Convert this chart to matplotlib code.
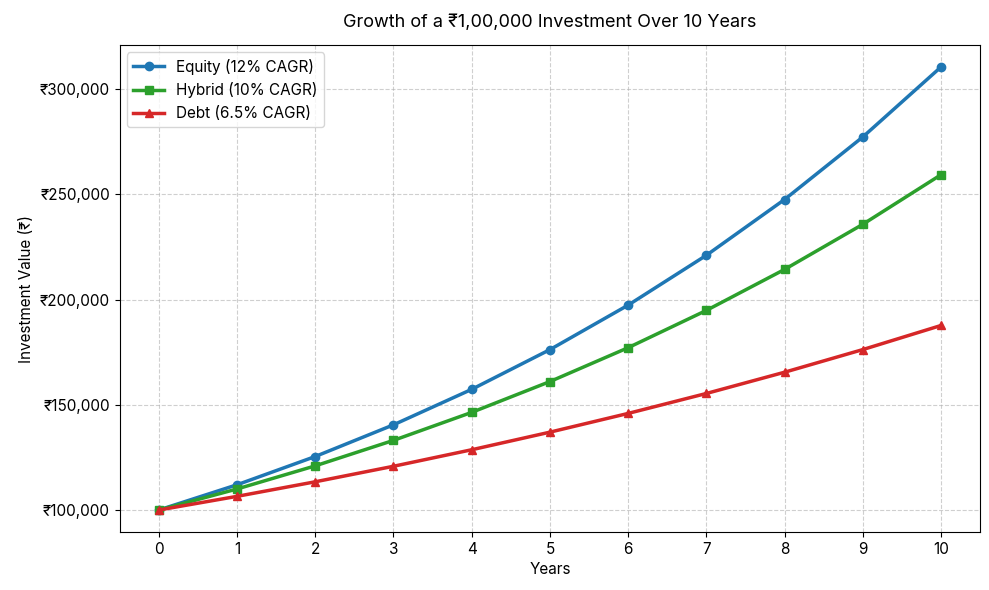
import matplotlib
matplotlib.use("Agg")
import matplotlib.pyplot as plt
from matplotlib.ticker import FuncFormatter

plt.rcParams['font.family'] = ['Inter', 'Noto Sans', 'DejaVu Sans']

years = [0, 1, 2, 3, 4, 5, 6, 7, 8, 9, 10]
equity = [100000, 112000, 125440, 140493, 157352, 176234, 197382, 221068, 247596, 277308, 310585]
hybrid = [100000, 110000, 121000, 133100, 146410, 161051, 177156, 194872, 214359, 235795, 259374]
debt = [100000, 106500, 113423, 120795, 128647, 137009, 145914, 155399, 165500, 176257, 187714]

fig, ax = plt.subplots(figsize=(9.89, 5.9), dpi=100)
ax.plot(years, equity, marker='o', color='#1f77b4', linewidth=2.5, markersize=6, label='Equity (12% CAGR)')
ax.plot(years, hybrid, marker='s', color='#2ca02c', linewidth=2.5, markersize=6, label='Hybrid (10% CAGR)')
ax.plot(years, debt, marker='^', color='#d62728', linewidth=2.5, markersize=6, label='Debt (6.5% CAGR)')

ax.set_title('Growth of a \u20b91,00,000 Investment Over 10 Years', fontsize=13, pad=13)
ax.set_xlabel('Years', fontsize=11)
ax.set_ylabel('Investment Value (\u20b9)', fontsize=11)
ax.set_xticks(years)
ax.yaxis.set_major_formatter(FuncFormatter(lambda v, p: '\u20b9{:,.0f}'.format(v)))
ax.tick_params(labelsize=11)
ax.grid(True, linestyle='--', alpha=0.6)
ax.legend(loc='upper left', fontsize=11)

fig.subplots_adjust(left=0.121, right=0.991, top=0.924, bottom=0.098)
plt.savefig('out.png')
